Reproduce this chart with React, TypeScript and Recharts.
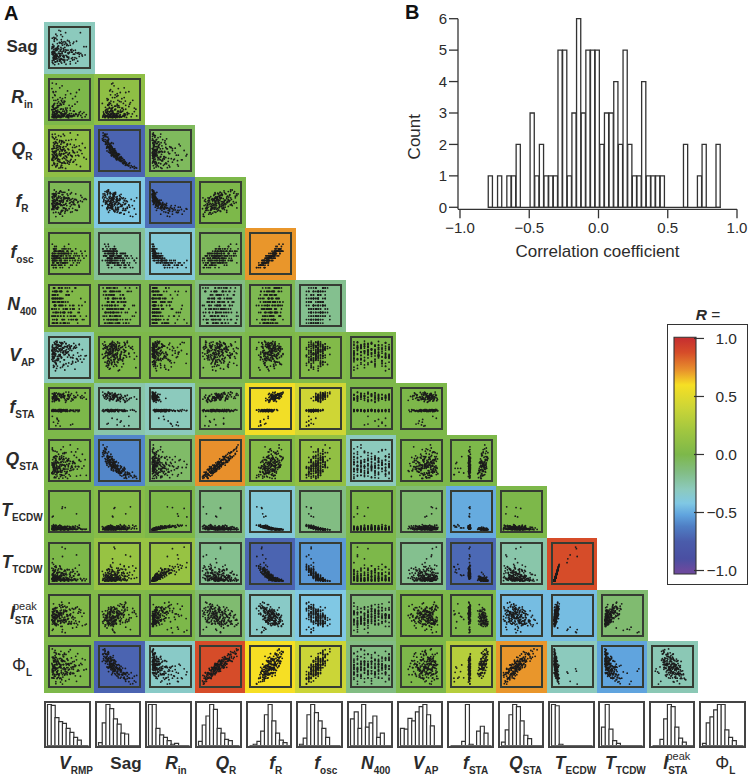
import React from 'react';
import { ScatterChart, Scatter, XAxis, YAxis, BarChart, Bar, ReferenceLine } from 'recharts';

// Neuron measurements, as panel-position percentages estimated from the matrix (20 blocks of 10)
const vRmp = [12,34,8,55,22,71,15,41,28,6, 45,18,9,30,62,14,83,25,37,11, 20,7,52,16,35,10,44,68,13,27, 31,64,11,24,5,48,19,38,90,16, 9,40,26,75,17,33,6,58,21,12, 53,14,36,8,28,46,12,79,18,31, 16,29,60,10,43,23,7,34,66,15, 38,8,19,50,13,87,27,11,42,24, 5,57,32,17,72,20,39,14,9,47, 26,13,44,35,7,61,16,30,54,10, 68,22,10,41,19,12,51,29,6,36, 15,49,27,6,33,78,11,23,40,18,
  24,52,10,37,16,6,66,29,13,44, 8,33,75,19,48,25,11,58,35,14, 41,17,28,63,9,36,21,12,82,30, 13,46,6,23,55,18,34,70,10,27, 60,11,39,15,26,7,49,20,31,74, 22,35,9,56,12,43,17,65,28,8, 37,6,25,14,47,30,93,19,10,52, 18,59,32,11,7,40,24,15,45,28];
const sag = [6,18,9,22,8,15,20,7,13,12, 25,14,20,10,19,13,28,18,15,22, 21,32,14,25,30,17,26,22,34,18, 36,24,29,20,38,25,28,18,31,33, 22,39,27,33,42,28,34,24,26,37, 44,31,28,33,30,43,25,35,29,40, 30,46,33,40,28,39,34,48,37,26, 50,32,44,38,30,52,41,36,43,34, 47,38,56,45,36,53,44,42,50,34, 62,46,58,44,52,64,48,60,42,54, 66,54,76,60,50,74,62,70,52,65, 84,66,92,74,62,88,70,94,64,80,
  15,8,19,12,22,16,10,20,13,18, 24,19,27,16,21,30,23,18,26,20, 30,26,22,33,28,24,35,27,31,21, 29,36,33,25,38,31,27,35,40,34, 42,35,38,32,44,40,36,46,34,37, 48,41,52,45,39,55,47,43,50,38, 58,50,62,47,55,65,52,60,45,56, 70,60,78,66,58,88,63,74,68,83];
const rIn = [40,25,18,14,9,7,10,5,4,6, 72,30,35,12,20,9,14,6,8,4, 50,55,22,28,11,16,7,12,5,7, 85,38,26,18,24,10,8,15,6,3, 35,62,40,16,13,20,12,7,10,5, 65,28,46,30,15,11,18,9,4,8, 90,48,20,25,22,8,13,6,12,4, 45,70,34,14,27,17,6,11,7,9, 78,33,52,20,10,23,15,5,9,6, 55,60,28,38,18,12,20,10,8,5, 68,44,38,24,30,14,9,16,7,10, 48,35,25,32,14,19,11,8,13,6,
  18,6,48,11,5,24,14,36,4,9, 30,9,75,16,3,35,7,52,8,20, 14,12,38,8,6,42,5,62,4,26, 26,5,92,19,7,20,12,44,3,15, 10,7,55,22,4,33,9,30,6,12, 34,10,68,6,8,18,15,58,5,24, 20,4,80,14,5,46,11,40,9,28, 16,8,42,25,7,28,6,70,4,13];
const qR = [80,92,83,78,88,90,84,76,86,91, 66,78,70,74,64,73,68,76,71,80, 58,55,66,62,70,56,64,60,68,59, 50,58,47,60,54,52,63,49,57,55, 46,44,55,52,41,58,48,50,53,47, 38,48,42,46,52,40,44,50,37,49, 36,42,47,34,45,39,48,41,37,46, 30,38,34,44,40,32,36,42,35,43, 26,34,29,31,38,27,36,30,33,39, 20,28,24,32,26,22,30,18,27,34, 14,22,18,26,24,16,20,12,25,21, 8,15,6,12,18,9,14,5,17,11,
  72,95,60,88,70,85,78,75,92,66, 55,74,62,68,76,48,66,58,60,72, 60,50,66,44,62,54,52,56,42,70, 48,54,40,62,36,58,52,46,44,38, 45,34,50,48,38,30,42,28,52,36, 28,42,24,36,46,32,38,26,40,34, 18,30,26,38,22,12,28,16,34,24, 12,20,6,16,30,4,22,10,18,8];
const fR = [42,36,52,44,66,50,74,62,78,72, 30,46,40,55,46,68,52,78,64,82, 38,34,50,44,58,52,72,56,66,80, 28,44,38,53,47,62,56,76,60,70, 36,31,48,40,57,50,64,60,74,67, 25,41,35,50,44,59,52,68,62,76, 34,28,45,38,54,47,62,56,72,66, 23,38,33,48,42,58,51,65,61,74, 32,26,42,36,52,45,60,54,68,62, 20,36,30,44,40,54,48,62,58,71, 30,24,38,34,48,42,56,52,65,60, 14,34,20,44,30,54,38,62,46,58,
  55,72,32,62,78,48,58,44,68,60, 42,70,38,50,82,46,64,35,76,52, 48,60,25,58,73,36,62,42,63,56, 40,68,33,47,75,44,52,30,72,54, 50,58,27,56,65,34,60,38,70,43, 37,64,24,52,72,42,49,31,60,46, 44,55,20,46,62,30,58,35,56,40, 35,50,15,48,60,34,45,25,54,42];
const fOsc = [32,26,44,38,56,44,50,62,56,74, 26,32,32,44,38,56,44,56,68,56, 26,26,44,32,50,44,56,50,62,56, 26,32,32,38,38,50,44,62,56,62, 14,26,32,44,38,50,44,56,50,68, 20,32,26,44,32,50,38,56,56,62, 14,32,26,38,44,38,50,44,62,56, 20,26,26,38,44,38,44,50,50,56, 20,20,26,38,32,44,38,56,44,62, 14,20,32,26,32,44,38,50,50,44, 20,20,26,26,38,38,32,44,50,50, 14,14,26,20,26,32,44,38,50,44,
  50,62,20,50,68,44,44,32,56,56, 38,56,26,44,74,38,56,32,62,38, 44,44,20,50,62,26,50,32,50,50, 32,56,32,44,56,38,38,26,62,50, 38,50,26,44,56,32,44,26,56,38, 26,56,14,38,62,38,44,32,44,32, 32,44,20,44,50,20,44,26,44,38, 26,38,14,44,50,32,32,20,38,38];
const n400 = [50,14,77,32,95,5,59,41,86,23, 23,68,5,86,41,50,14,95,32,59, 77,41,32,5,59,23,86,14,68,50, 14,95,50,68,23,77,5,32,59,86, 59,5,86,41,14,32,68,50,23,95, 32,77,23,59,5,86,41,68,14,50, 86,50,14,23,77,41,59,5,95,32, 5,32,68,95,50,14,23,77,41,59, 41,86,59,14,32,68,95,23,5,77, 68,23,41,5,86,50,32,59,14,68, 14,59,95,77,23,5,50,86,41,32, 50,5,32,41,68,23,14,95,59,86,
  86,23,59,5,41,77,14,68,32,95, 5,50,32,77,14,59,95,41,23,68, 41,14,68,23,95,5,32,86,50,59, 77,59,5,50,23,86,41,14,68,32, 23,86,41,68,5,14,77,59,95,50, 59,32,77,14,50,41,5,23,86,68, 14,68,50,86,32,95,23,5,59,41, 32,41,14,59,77,50,68,86,5,23];
const vAp = [58,30,72,80,48,62,35,85,52,75, 64,82,25,50,76,38,70,55,78,60, 42,68,74,84,32,63,79,47,56,72, 88,20,60,71,45,36,66,78,54,69, 30,67,58,83,77,86,52,40,65,73, 50,76,44,64,81,28,59,55,75,70, 35,87,73,48,61,57,82,74,38,66, 18,63,53,77,85,46,80,51,70,67, 68,50,26,90,41,75,58,83,47,72, 56,37,78,62,49,86,43,71,79,59, 76,44,52,34,81,61,69,88,57,67, 71,55,24,79,63,46,89,53,65,74,
  55,73,40,90,32,66,81,49,60,76, 47,62,84,28,58,79,70,36,74,54, 86,22,64,77,50,57,83,61,38,69, 42,80,59,72,33,88,65,45,75,67, 56,27,78,91,39,60,82,46,71,53, 79,31,52,68,85,63,43,74,87,57, 44,70,89,16,65,83,55,48,61,76, 92,49,75,67,41,62,81,59,51,78];
const fSta = [44,46,43,45,47,84,76,92,80,88, 43,45,47,42,78,45,76,85,80,90, 12,44,46,43,45,82,75,91,84,87, 46,42,44,47,45,86,74,83,90,79, 45,43,47,44,82,44,80,72,88,84, 8,46,44,45,43,83,87,77,74,81, 44,47,43,46,45,89,73,86,78,76, 46,44,22,80,47,79,46,85,70,82, 43,45,46,44,42,86,72,80,77,74, 5,44,43,47,46,83,71,78,69,76, 45,18,76,43,46,73,43,84,68,81, 46,44,42,30,45,80,70,74,66,77,
  45,84,44,76,90,46,80,43,88,47, 44,86,46,74,92,43,82,10,89,45, 47,81,42,78,87,45,75,44,83,46, 43,85,45,70,88,25,79,46,82,44, 46,80,44,73,85,47,77,43,86,45, 42,83,15,75,87,44,72,46,78,43, 45,76,47,71,82,43,74,44,79,46, 44,73,46,68,78,45,70,6,75,47];
const qSta = [60,85,75,72,66,80,62,70,78,82, 50,72,58,62,63,55,66,60,70,58, 45,52,48,60,55,42,50,58,46,53, 48,42,35,56,44,50,46,38,52,41, 34,46,40,50,36,52,38,47,44,32, 30,44,38,33,46,28,41,48,26,39, 32,36,45,24,40,30,43,28,35,46, 22,34,30,42,26,36,28,38,20,33, 18,32,24,30,35,20,34,22,27,38, 14,26,22,30,17,28,20,12,25,32, 10,20,16,28,22,8,24,14,18,12, 6,14,9,18,5,12,20,4,16,10,
  52,90,58,68,50,78,72,56,74,48, 40,68,52,46,55,36,58,42,60,50, 56,36,45,44,38,52,34,60,30,58, 30,52,40,44,34,60,38,28,46,24, 48,24,36,54,22,38,42,30,40,34, 22,46,30,36,32,18,44,34,24,38, 28,16,32,24,34,20,12,26,38,10, 16,26,12,6,22,8,30,14,4,20];
const tEcdw = [11,8,9,6,6,5,4,4,4,3, 12,10,7,7,5,6,4,5,3,4, 10,12,8,7,6,4,5,4,4,3, 58,9,10,7,5,6,5,4,4,4, 13,9,8,8,6,5,5,4,4,4, 10,12,9,6,7,5,6,5,3,4, 14,10,11,8,6,7,4,5,4,4, 12,38,8,9,7,5,6,4,5,4, 13,10,10,7,8,6,5,6,4,4, 14,11,12,9,7,7,5,5,5,4, 44,13,10,10,8,6,7,4,6,5, 15,12,13,8,9,6,7,6,4,5,
  7,4,12,6,4,9,5,10,4,6, 9,5,15,7,3,10,5,12,4,7, 6,6,13,5,4,11,6,14,4,8, 9,4,36,7,4,8,6,11,3,6, 8,5,60,5,4,9,5,12,4,9, 10,3,16,6,5,8,7,13,4,6, 8,5,15,6,4,12,5,10,5,10, 9,4,62,7,5,11,6,14,3,8];
const tTcdw = [30,20,22,14,12,9,8,7,6,5, 34,26,16,18,11,13,7,9,5,6, 26,32,20,15,13,8,10,6,7,5, 92,24,28,17,10,12,9,8,6,7, 36,22,19,21,14,10,11,7,8,6, 28,34,24,13,16,9,12,10,5,7, 40,25,30,19,12,15,8,9,7,6, 33,62,21,23,17,11,13,7,10,8, 38,28,26,16,20,14,9,12,8,7, 42,31,35,22,15,18,11,10,9,6, 72,36,27,25,19,13,16,8,12,9, 44,34,38,20,24,12,17,14,7,11,
  17,8,32,12,6,22,10,26,7,13, 24,9,46,15,5,28,11,34,8,18, 15,12,36,9,7,30,13,42,6,20, 22,7,52,16,6,19,14,29,5,12, 18,10,88,11,8,24,9,33,7,23, 27,6,48,14,9,21,16,38,8,15, 19,11,44,13,7,35,10,28,9,26, 25,8,68,17,10,31,12,41,6,21];
const iPeak = [60,38,46,30,52,26,44,34,22,40, 48,62,36,54,30,44,24,50,38,28, 34,58,50,28,64,42,52,30,46,36, 8,44,68,56,38,30,60,46,26,50, 66,40,52,34,58,72,28,48,36,44, 54,70,44,60,32,50,38,64,28,46, 42,76,58,36,62,48,34,54,70,30, 74,15,48,66,40,56,30,46,60,36, 50,68,78,44,56,38,64,30,52,42, 62,46,72,58,34,66,42,50,28,54, 20,56,44,70,60,36,52,64,46,32, 68,82,54,40,72,58,34,48,62,44,
  44,30,62,38,24,50,36,56,26,48, 58,34,66,46,28,42,32,18,40,52, 36,52,70,30,44,60,26,54,48,38, 64,28,12,54,34,46,58,72,30,42, 40,48,6,26,56,66,34,50,22,60, 56,38,80,44,30,52,62,68,36,46, 32,60,74,50,42,84,28,58,46,64, 70,46,14,36,54,62,78,52,40,58];
const phiL = [63,76,70,72,82,83,85,81,89,95, 56,64,65,66,63,74,70,81,81,86, 46,51,58,61,65,62,70,67,78,71, 44,50,49,56,58,56,69,63,67,73, 37,42,50,53,46,63,55,62,64,66, 35,41,42,45,55,47,55,58,56,63, 29,39,43,40,47,48,54,55,52,64, 29,33,37,43,46,41,48,51,54,58, 21,32,29,36,41,40,44,47,47,57, 20,25,29,33,36,32,44,34,48,50, 12,23,20,32,30,30,32,34,40,45, 6,17,10,21,23,25,25,27,32,34,
  70,93,48,84,82,74,76,65,91,69, 51,80,53,64,88,49,71,49,75,68, 58,58,48,54,74,47,61,51,55,69, 45,66,36,58,58,54,55,38,62,47, 49,47,38,55,54,29,53,31,66,39, 30,55,20,44,63,36,44,26,52,40, 28,43,19,43,41,16,43,21,46,30, 19,33,5,29,46,13,31,11,34,20];

const variables = [vRmp, sag, rIn, qR, fR, fOsc, n400, vAp, fSta, qSta, tEcdw, tTcdw, iPeak, phiL];

// Correlation coefficient of every panel
const corrRows = [
  [-0.3],
  [0, 0.1],
  [0.1, -0.72, -0.05],
  [-0.03, -0.42, -0.68, 0],
  [0, -0.2, -0.38, -0.05, 0.72],
  [0.02, -0.02, -0.02, -0.15, -0.02, -0.18],
  [-0.3, 0, 0, -0.02, 0, 0.03, 0],
  [0, -0.25, -0.3, -0.05, 0.58, 0.42, 0, 0],
  [0, -0.6, -0.08, 0.73, 0.05, 0.12, -0.3, 0, 0],
  [0, 0.05, 0, -0.15, -0.38, -0.15, 0, -0.1, -0.5, 0],
  [0, 0.15, 0.15, -0.18, -0.72, -0.55, 0, -0.18, -0.7, -0.25, 0.88],
  [0.02, 0.02, 0, -0.1, -0.33, -0.42, -0.12, 0, 0, -0.45, -0.45, -0.1],
  [0, -0.72, -0.33, 0.88, 0.6, 0.4, -0.15, 0, 0.3, 0.72, -0.3, -0.52, -0.28],
];

// Distribution of each variable
const hVRmp = [100, 98, 68, 58, 54, 42, 32, 20, 13, 0, 0];
const hSag = [7, 55, 100, 90, 65, 52, 30, 28, 0, 0, 0];
const hRIn = [100, 100, 42, 26, 20, 12, 3, 5, 0, 0, 0];
const hQR = [10, 50, 72, 100, 88, 42, 30, 15, 12, 0, 0];
const hFR = [0, 3, 10, 35, 75, 100, 60, 30, 13, 7, 0];
const hFOsc = [3, 18, 75, 100, 80, 60, 42, 20, 0, 0, 0];
const hN400 = [65, 82, 42, 100, 45, 55, 72, 20, 30, 0, 0];
const hVAp = [42, 40, 66, 60, 82, 95, 100, 75, 48, 0, 0];
const hFSta = [0, 0, 0, 10, 100, 3, 0, 35, 47, 30, 0];
const hQSta = [8, 38, 75, 100, 95, 60, 25, 17, 0, 0, 0];
const hTEcdw = [100, 97, 3, 0, 0, 0, 0, 0, 0, 0, 0];
const hTTcdw = [45, 100, 40, 12, 5, 0, 0, 0, 0, 0, 0];
const hIPeak = [0, 0, 15, 65, 100, 95, 45, 18, 8, 0, 0];
const hPhiL = [5, 55, 70, 87, 100, 100, 38, 20, 12, 0, 0];
const histograms = [hVRmp, hSag, hRIn, hQR, hFR, hFOsc, hN400, hVAp, hFSta, hQSta, hTEcdw, hTTcdw, hIPeak, hPhiL];

// Panel B
const corrBinCounts = [1,0,1,0,1,1,2,0,0,3,1,2,1,1,1,5,5,1,3,6,3,5,5,5,2,3,3,4,2,5,2,1,1,4,1,1,1,1,0,0,0,0,2,0,0,1,2,0,0,2];
const corrBinStart = -0.796;
const corrBinWidth = 0.03356;
const xTicksB = [-1, -0.5, 0, 0.5, 1];
const yTicksB = [0, 1, 2, 3, 4, 5, 6];
const colorTicks = [-1, -0.5, 0, 0.5, 1];

// Colour scale
const colorStops: [number, string][] = [
  [1, '#c62f2f'], [0.88, '#d64c29'], [0.73, '#e8902c'], [0.6, '#f6df24'], [0.4, '#cbd537'], [0.2, '#a0c640'], [0, '#7db84a'],
  [-0.15, '#82bd83'], [-0.3, '#8ccabd'], [-0.42, '#80c8e4'], [-0.52, '#60a4de'], [-0.62, '#4f7ec4'], [-0.75, '#4a5cab'], [-0.9, '#4a4fa2'], [-1, '#6b4a9e'],
];

type Label = { s: string; sub?: string; sup?: string; it?: boolean };
const labels: Label[] = [
  { s: 'V', sub: 'RMP', it: true }, { s: 'Sag' }, { s: 'R', sub: 'in', it: true }, { s: 'Q', sub: 'R', it: true },
  { s: 'f', sub: 'R', it: true }, { s: 'f', sub: 'osc', it: true }, { s: 'N', sub: '400', it: true }, { s: 'V', sub: 'AP', it: true },
  { s: 'f', sub: 'STA', it: true }, { s: 'Q', sub: 'STA', it: true }, { s: 'T', sub: 'ECDW', it: true }, { s: 'T', sub: 'TCDW', it: true },
  { s: 'I', sub: 'STA', sup: 'peak', it: true }, { s: 'Φ', sub: 'L' },
];

const FONT = '"Liberation Sans", Arial, sans-serif';
const INK = '#2b2b2b';

function colorOf(r: number) {
  for (let i = 0; i < colorStops.length - 1; i++) {
    const [a, ca] = colorStops[i];
    const [b, cb] = colorStops[i + 1];
    if (r <= a && r >= b) {
      const t = (a - r) / (a - b);
      const ch = (c: string, k: number) => parseInt(c.slice(1 + k * 2, 3 + k * 2), 16);
      return `rgb(${[0, 1, 2].map((k) => Math.round(ch(ca, k) + (ch(cb, k) - ch(ca, k)) * t)).join(',')})`;
    }
  }
  return '#7db84a';
}

const CELL_X = 44, CELL_Y = 22, STEP_X = 50.25, STEP_Y = 51.6;

const Dot = (p: any) => <circle cx={p.cx} cy={p.cy} r={0.9} fill="#1c1c1c" />;

function Panel({ row, col, r }: { row: number; col: number; r: number }) {
  const xs = variables[col];
  const ys = variables[row + 1];
  const data = xs.map((x, i) => ({ x, y: ys[i] }));
  return (
    <div style={{ position: 'absolute', left: CELL_X + col * STEP_X, top: CELL_Y + row * STEP_Y, width: STEP_X + 0.5, height: STEP_Y + 0.5, background: colorOf(r) }}>
      <div style={{ position: 'absolute', left: 4, top: 4, width: 43, height: 43, boxSizing: 'border-box', border: '2px solid #363c33' }}>
        <ScatterChart width={39} height={39} margin={{ top: 0, right: 0, bottom: 0, left: 0 }}>
          <XAxis type="number" dataKey="x" domain={[0, 100]} hide />
          <YAxis type="number" dataKey="y" domain={[0, 100]} hide />
          <Scatter data={data} shape={Dot} isAnimationActive={false} />
        </ScatterChart>
      </div>
    </div>
  );
}

function Hist({ i }: { i: number }) {
  const data = histograms[i].map((v, k) => ({ k, v }));
  return (
    <div style={{ position: 'absolute', left: 44.3 + i * 50.38, top: 700.5, width: 46.5, height: 47, boxSizing: 'border-box', border: '2px solid #444', background: '#fff' }}>
      <BarChart width={42.5} height={43} data={data} barCategoryGap={0} margin={{ top: 1.5, right: 0, bottom: 0.5, left: 1.5 }}>
        <XAxis dataKey="k" hide />
        <YAxis domain={[0, 100]} hide />
        <ReferenceLine y={0} stroke="#666" strokeWidth={1.2} />
        <Bar dataKey="v" fill="#fff" stroke="#333" strokeWidth={1.2} isAnimationActive={false} />
      </BarChart>
    </div>
  );
}

function VarLabel({ x, y, l }: { x: number; y: number; l: Label }) {
  return (
    <g fontFamily={FONT} fontWeight={700} fill={INK}>
      <text x={x} y={y} textAnchor="middle" fontSize={l.s === 'Sag' ? 17 : 17.5}>
        <tspan fontStyle={l.it ? 'italic' : 'normal'} fontWeight={l.s === 'Φ' ? 400 : 700}>{l.s}</tspan>
        {l.sub ? <tspan dy={5} fontSize={10}>{l.sub}</tspan> : null}
      </text>
      {l.sup ? <text x={x - 9} y={y - 9} fontSize={11} fontWeight={400}>{l.sup}</text> : null}
    </g>
  );
}

const fmt = (v: number) => (v < 0 ? '\u2212' : '') + Math.abs(v).toFixed(1);

function PanelB() {
  const data = corrBinCounts.map((count, i) => ({ x: corrBinStart + corrBinWidth * (i + 0.5), count }));
  const tick = { fill: INK, fontSize: 15, fontFamily: FONT };
  return (
    <div style={{ position: 'absolute', left: 400, top: 0 }}>
      <BarChart width={350} height={262} data={data} margin={{ top: 18.7, right: 13, bottom: 22.7, left: 28 }}>
        <XAxis type="number" dataKey="x" domain={[-1.0144, 1]} ticks={xTicksB} tickFormatter={fmt} tick={tick} tickSize={9} tickMargin={4} stroke="#333" strokeWidth={1.3} interval={0} height={30}
          label={{ value: 'Correlation coefficient', position: 'bottom', offset: 6, fill: INK, fontSize: 17, fontFamily: FONT }} />
        <YAxis type="number" domain={[-0.064, 6]} ticks={yTicksB} tick={tick} tickSize={9} stroke="#333" strokeWidth={1.3} width={30} interval={0}
          label={{ value: 'Count', angle: -90, position: 'left', offset: 14, fill: INK, fontSize: 17, fontFamily: FONT }} />
        <ReferenceLine segment={[{ x: corrBinStart, y: 0 }, { x: corrBinStart + corrBinWidth * corrBinCounts.length, y: 0 }]} stroke="#333" strokeWidth={1.3} />
        <Bar dataKey="count" fill="#fff" stroke="#333" strokeWidth={1.3} barSize={4.65} isAnimationActive={false} />
      </BarChart>
    </div>
  );
}

const ColorTick = (p: any) => (
  <g>
    <line x1={p.x - 10} x2={p.x} y1={p.y} y2={p.y} stroke="#333" strokeWidth={1.2} />
    <text x={p.x + 33} y={p.y + 5.5} textAnchor="end" fontSize={15.5} fontFamily={FONT} fill={INK}>{fmt(p.payload.value)}</text>
  </g>
);

function ColorBar() {
  const data = [{ name: 'R', v: [-1.03, 1.01] }];
  return (
    <div style={{ position: 'absolute', left: 667, top: 324, width: 81, height: 261, boxSizing: 'border-box', border: '1.2px solid #333', background: '#fff' }}>
      <BarChart width={78} height={258} data={data} barCategoryGap={0} margin={{ top: 12.3, right: 0, bottom: 9, left: 6 }}>
        <defs>
          <linearGradient id="rScale" x1="0" y1="0" x2="0" y2="1">
            {colorStops.map(([r, c]) => <stop key={r} offset={(1.01 - r) / 2.04} stopColor={c} />)}
          </linearGradient>
        </defs>
        <XAxis dataKey="name" hide />
        <YAxis orientation="right" type="number" domain={[-1.03, 1.01]} ticks={colorTicks} tick={ColorTick} tickLine={false} axisLine={false} width={50} interval={0} />
        <Bar dataKey="v" fill="url(#rScale)" stroke="#333" strokeWidth={1.1} isAnimationActive={false} />
      </BarChart>
    </div>
  );
}

export default function App() {
  return (
    <div style={{ position: 'absolute', left: 0, top: 0, width: 750, height: 777, background: '#fff', overflow: 'hidden' }}>
      {corrRows.map((cols, row) => cols.map((r, col) => <Panel key={`${row}-${col}`} row={row} col={col} r={r} />))}
      {histograms.map((_, i) => <Hist key={i} i={i} />)}
      <PanelB />
      <ColorBar />
      <svg width={750} height={777} style={{ position: 'absolute', left: 0, top: 0, pointerEvents: 'none' }}>
        <text x={4} y={20} fontFamily={FONT} fontSize={20} fontWeight={700} fill="#111">A</text>
        <text x={405} y={19} fontFamily={FONT} fontSize={20} fontWeight={700} fill="#111">B</text>
        {labels.slice(1).map((l, i) => <VarLabel key={i} x={22} y={CELL_Y + (i + 0.5) * STEP_Y + 4} l={l} />)}
        {labels.map((l, i) => <VarLabel key={i} x={76 + i * 49.95} y={769} l={l} />)}
        <text x={708} y={320} textAnchor="middle" fontFamily={FONT} fontSize={15.5} fill={INK}>
          <tspan fontWeight={700} fontStyle="italic">R</tspan> =
        </text>
      </svg>
    </div>
  );
}
